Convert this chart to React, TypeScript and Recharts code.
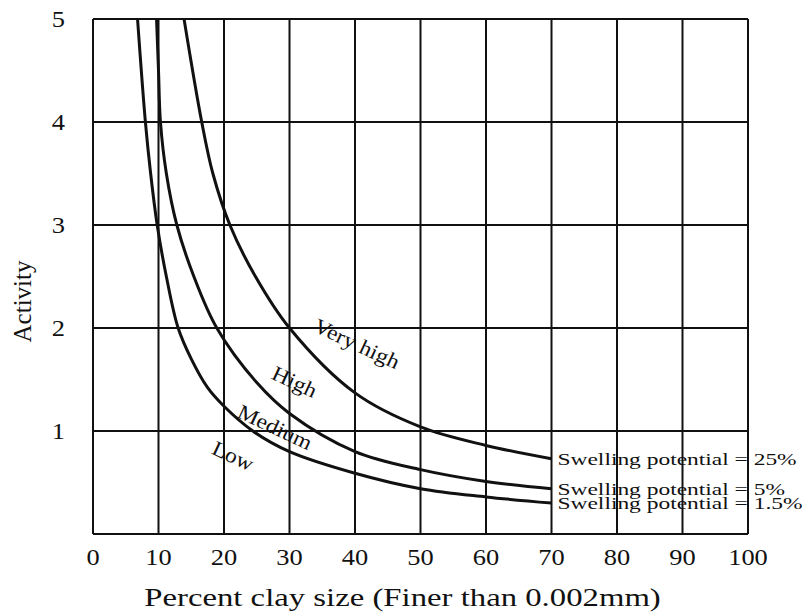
import React from 'react';
import { LineChart, Line, XAxis, YAxis, CartesianGrid, ReferenceDot } from 'recharts';

// Axis ticks
const xTicks = [0, 10, 20, 30, 40, 50, 60, 70, 80, 90, 100];
const yTicks = [0, 1, 2, 3, 4, 5];

// Swelling potential = 1.5% (Low / Medium boundary)
const sp15X = [6.8, 8.0, 8.8, 9.8, 11.2, 13.0, 15.0, 17.5, 20, 24.4, 30, 40, 50, 60, 70];
const sp15Y = [5, 4, 3.5, 3, 2.5, 2.0, 1.7, 1.42, 1.24, 1.0, 0.8, 0.59, 0.44, 0.36, 0.3];

// Swelling potential = 5% (Medium / High boundary)
const sp5X = [9.7, 10.0, 10.3, 11.2, 12.8, 15.4, 18.9, 25, 30, 40, 50, 60, 70];
const sp5Y = [5, 4.5, 4, 3.5, 3, 2.5, 2.0, 1.47, 1.17, 0.8, 0.625, 0.51, 0.44];

// Swelling potential = 25% (High / Very high boundary)
const sp25X = [13.9, 16.6, 18.3, 20.9, 24.8, 30, 40, 50, 60, 70];
const sp25Y = [5, 4, 3.5, 3, 2.5, 2.0, 1.37, 1.04, 0.86, 0.73];

const curveNames = ['Swelling potential = 1.5%', 'Swelling potential = 5%', 'Swelling potential = 25%'];

// Zone annotations (data coordinates)
const zoneText = ['Very high', 'High', 'Medium', 'Low'];
const zoneX = [40.3, 30.8, 27.8, 21.4];
const zoneY = [1.85, 1.48, 1.04, 0.76];

const toPoints = (xs: number[], ys: number[]) => xs.map((x, i) => ({ x, y: ys[i] }));
const series = [toPoints(sp15X, sp15Y), toPoints(sp5X, sp5Y), toPoints(sp25X, sp25Y)];

const FONT = '"Liberation Serif", "Times New Roman", Times, serif';
const INK = '#111';

// Centripetal Catmull-Rom curve factory (d3-shape compatible)
function catmullRom(context: any) {
  let pts: number[][] = [];
  const alpha = 0.5;
  const eps = 1e-12;
  return {
    areaStart() {},
    areaEnd() {},
    lineStart() {
      pts = [];
    },
    point(x: number, y: number) {
      pts.push([+x, +y]);
    },
    lineEnd() {
      const n = pts.length;
      if (!n) return;
      context.moveTo(pts[0][0], pts[0][1]);
      for (let i = 0; i < n - 1; i++) {
        const p0 = pts[i === 0 ? 0 : i - 1];
        const p1 = pts[i];
        const p2 = pts[i + 1];
        const p3 = pts[i + 2 < n ? i + 2 : n - 1];
        const l01 = Math.hypot(p1[0] - p0[0], p1[1] - p0[1]);
        const l12 = Math.hypot(p2[0] - p1[0], p2[1] - p1[1]);
        const l23 = Math.hypot(p3[0] - p2[0], p3[1] - p2[1]);
        const l01a = Math.pow(l01, alpha), l01_2a = Math.pow(l01, 2 * alpha);
        const l12a = Math.pow(l12, alpha), l12_2a = Math.pow(l12, 2 * alpha);
        const l23a = Math.pow(l23, alpha), l23_2a = Math.pow(l23, 2 * alpha);
        let c1x = p1[0], c1y = p1[1], c2x = p2[0], c2y = p2[1];
        if (l01a > eps) {
          const a = 2 * l01_2a + 3 * l01a * l12a + l12_2a;
          const m = 3 * l01a * (l01a + l12a);
          c1x = (p1[0] * a - p0[0] * l12_2a + p2[0] * l01_2a) / m;
          c1y = (p1[1] * a - p0[1] * l12_2a + p2[1] * l01_2a) / m;
        }
        if (l23a > eps) {
          const b = 2 * l23_2a + 3 * l23a * l12a + l12_2a;
          const m = 3 * l23a * (l23a + l12a);
          c2x = (p2[0] * b + p1[0] * l23_2a - p3[0] * l12_2a) / m;
          c2y = (p2[1] * b + p1[1] * l23_2a - p3[1] * l12_2a) / m;
        }
        context.bezierCurveTo(c1x, c1y, c2x, c2y, p2[0], p2[1]);
      }
    },
  };
}

function SText({ x, y, sx = 1, rotate = 0, anchor = 'middle', size, dy = '0.35em', children }: any) {
  return (
    <g transform={`translate(${x},${y}) rotate(${rotate}) scale(${sx},1)`}>
      <text x={0} y={0} dy={dy} textAnchor={anchor} fontSize={size} fontFamily={FONT} fill={INK}>
        {children}
      </text>
    </g>
  );
}

const XTick = (props: any) => {
  const { x, y, payload } = props;
  return (
    <SText x={x} y={y} dy="0.71em" size={23} sx={1.15}>
      {payload.value}
    </SText>
  );
};

const YTick = (props: any) => {
  const { x, y, payload } = props;
  if (payload.value === 0) return null;
  return (
    <SText x={x} y={y} anchor="end" size={23} sx={1.15}>
      {payload.value}
    </SText>
  );
};

const XLabel = (props: any) => {
  const { x, y, width } = props.viewBox;
  return (
    <SText x={x + width / 2 - 18} y={y + 63} size={26} sx={1.26}>
      Percent clay size (Finer than 0.002mm)
    </SText>
  );
};

const YLabel = (props: any) => {
  const { x, y, height } = props.viewBox;
  return (
    <SText x={x + 22} y={y + height / 2 + 25} rotate={-90} size={25}>
      Activity
    </SText>
  );
};

const EndLabel = (text: string) => (props: any) => {
  const { x, y } = props.viewBox;
  return (
    <SText x={x + 6} y={y} anchor="start" size={17} sx={1.38}>
      {text}
    </SText>
  );
};

const ZoneLabel = (text: string) => (props: any) => {
  const { x, y } = props.viewBox;
  return (
    <SText x={x} y={y} rotate={25} size={21} sx={1.12}>
      {text}
    </SText>
  );
};

export default function App() {
  return (
    <div style={{ position: 'absolute', left: 0, top: 0, background: '#fff' }}>
      <LineChart width={805} height={615} margin={{ top: 19, right: 57, left: 0, bottom: 0 }}>
        <CartesianGrid stroke={INK} strokeWidth={2} />
        <XAxis
          dataKey="x"
          type="number"
          domain={[0, 100]}
          ticks={xTicks}
          interval={0}
          height={81}
          tickLine={false}
          tickSize={0}
          tickMargin={15}
          axisLine={{ stroke: INK, strokeWidth: 2 }}
          tick={<XTick />}
          label={{ content: <XLabel /> }}
          allowDataOverflow
        />
        <YAxis
          type="number"
          domain={[0, 5]}
          ticks={yTicks}
          interval={0}
          width={93}
          tickLine={false}
          tickSize={0}
          tickMargin={28}
          axisLine={{ stroke: INK, strokeWidth: 2 }}
          tick={<YTick />}
          label={{ content: <YLabel /> }}
          allowDataOverflow
        />
        {series.map((pts, i) => (
          <Line
            key={curveNames[i]}
            data={pts}
            dataKey="y"
            name={curveNames[i]}
            type={catmullRom as any}
            stroke={INK}
            strokeWidth={3}
            dot={false}
            activeDot={false}
            isAnimationActive={false}
          />
        ))}
        {series.map((pts, i) => (
          <ReferenceDot
            key={'end' + i}
            x={pts[pts.length - 1].x}
            y={pts[pts.length - 1].y}
            r={0}
            fill="none"
            stroke="none"
            label={{ content: EndLabel(curveNames[i]) }}
          />
        ))}
        {zoneText.map((t, i) => (
          <ReferenceDot
            key={'zone' + i}
            x={zoneX[i]}
            y={zoneY[i]}
            r={0}
            fill="none"
            stroke="none"
            label={{ content: ZoneLabel(t) }}
          />
        ))}
      </LineChart>
    </div>
  );
}
